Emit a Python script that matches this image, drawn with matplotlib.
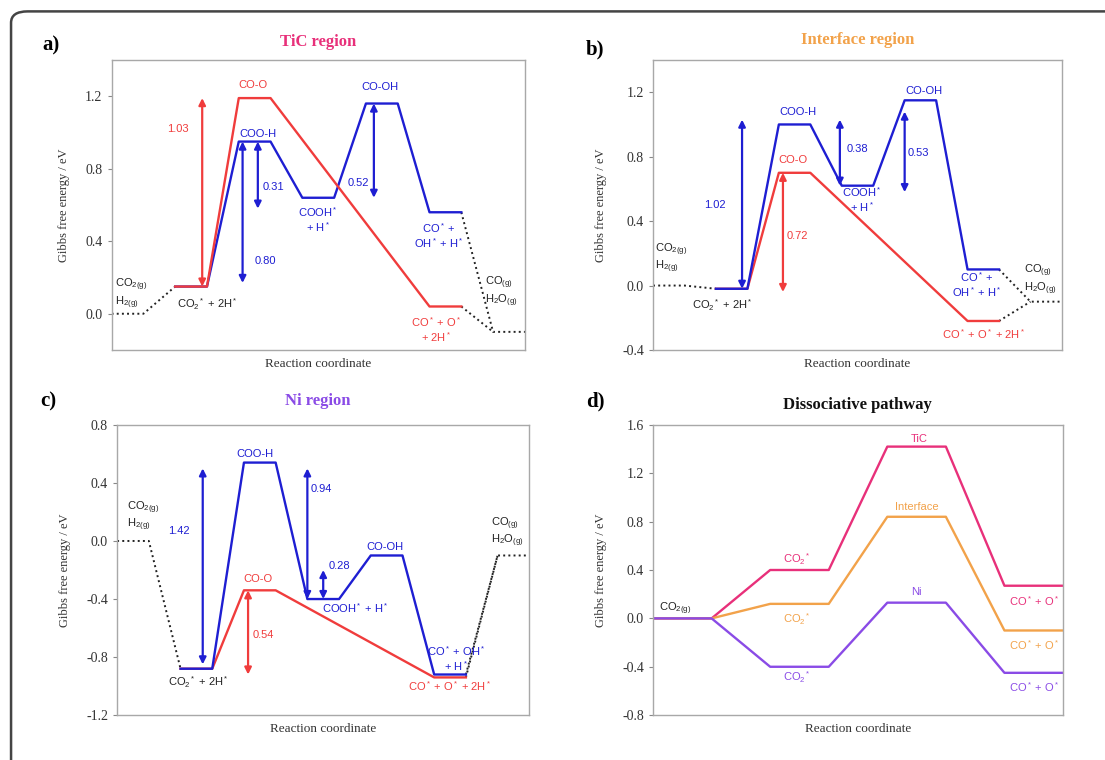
import matplotlib
matplotlib.use('Agg')
import matplotlib.pyplot as plt
from matplotlib.patches import FancyBboxPatch
from matplotlib.ticker import FormatStrFormatter

plt.rcParams['font.family'] = ['Liberation Serif', 'DejaVu Serif']
plt.rcParams['mathtext.fontset'] = 'custom'
plt.rcParams['mathtext.rm'] = 'Liberation Sans'
plt.rcParams['mathtext.it'] = 'Liberation Sans:italic'
plt.rcParams['axes.unicode_minus'] = False

# ---- energy levels (eV), one value per plateau ----
# slots: 0 = gas start, 1..5 = adsorbed states, 6 = gas end
gas_a = [0.0, -0.10]
cooh_a = [0.15, 0.95, 0.64, 1.16, 0.56]
redox_a = [0.15, 1.19, 0.04]

gas_b = [0.0, -0.10]
cooh_b = [-0.02, 1.00, 0.62, 1.15, 0.10]
redox_b = [-0.02, 0.70, -0.22]

gas_c = [0.0, -0.10]
cooh_c = [-0.88, 0.54, -0.40, -0.10, -0.92]
redox_c = [-0.88, -0.34, -0.94]

cooh_slots = [1, 2, 3, 4, 5]
redox_slots = [1, 2, 5]

# dissociative pathway, slots 0..3
diss_tic = [0.0, 0.40, 1.42, 0.27]
diss_int = [0.0, 0.12, 0.84, -0.10]
diss_ni = [0.0, -0.40, 0.13, -0.45]

# barrier arrows
bar_x_a = [2.85, 4.12, 4.6, 8.25]
bar_lo_a = [0.15, 0.17, 0.58, 0.64]
bar_hi_a = [1.19, 0.95, 0.95, 1.16]
bar_txt_a = ['1.03', '0.80', '0.31', '0.52']

bar_x_b = [2.83, 4.13, 5.94, 8.0]
bar_lo_b = [-0.02, -0.04, 0.62, 0.58]
bar_hi_b = [1.03, 0.70, 1.03, 1.08]
bar_txt_b = ['1.02', '0.72', '0.38', '0.53']

bar_x_c = [2.7, 4.13, 6.0, 6.5]
bar_lo_c = [-0.85, -0.92, -0.40, -0.40]
bar_hi_c = [0.50, -0.34, 0.50, -0.20]
bar_txt_c = ['1.42', '0.54', '0.94', '0.28']

BLUE = '#1e1ed2'
RED = '#f03c3c'
PINK = '#e8307a'
ORANGE = '#f2a24a'
PURPLE = '#8a4be6'
ANN = 8


def steps(slots, levels):
    xs, ys = [], []
    for s, v in zip(slots, levels):
        xs += [2 * s, 2 * s + 1]
        ys += [v, v]
    return xs, ys


def style_axes(ax, ylim, yticks):
    ax.set_xlim(0, 13)
    ax.set_ylim(*ylim)
    ax.set_yticks(yticks)
    ax.yaxis.set_major_formatter(FormatStrFormatter('%.1f'))
    ax.set_xticks([])
    for sp in ax.spines.values():
        sp.set_color('#a8a8a8')
        sp.set_linewidth(1.0)
    ax.tick_params(axis='y', length=3, color='#888888', labelsize=10,
                   labelcolor='#333333')
    ax.set_ylabel('Gibbs free energy / eV', fontsize=9, color='#333333',
                  labelpad=11)
    ax.set_xlabel('Reaction coordinate', fontsize=9.5, color='#333333',
                  labelpad=6)


def energy_panel(ax, gas, cooh, redox, red_on_top):
    # gas phase connectors
    ax.plot([0, 1, 2], [gas[0], gas[0], cooh[0]], color='#222222', ls=':', lw=1.4)
    ax.plot([11, 12, 13], [cooh[-1], gas[1], gas[1]], color='#222222', ls=':', lw=1.4)
    ax.plot([11, 12], [redox[-1], gas[1]], color='#222222', ls=':', lw=1.4)
    bx, by = steps(cooh_slots, cooh)
    rx, ry = steps(redox_slots, redox)
    zr = 3 if red_on_top else 2
    ax.plot(bx, by, color=BLUE, lw=1.7, zorder=2.5)
    ax.plot(rx, ry, color=RED, lw=1.7, zorder=zr)


def barriers(ax, xs, lo, hi, txt, colors, txt_pos):
    for x, a, b, t, c, (tx, ty) in zip(xs, lo, hi, txt, colors, txt_pos):
        ax.annotate('', xy=(x, b), xytext=(x, a),
                    arrowprops=dict(arrowstyle='<|-|>', color=c, lw=1.6,
                                    mutation_scale=10, shrinkA=0, shrinkB=0))
        ax.text(tx, ty, t, color=c, fontsize=ANN, family='Liberation Sans',
                ha='center', va='center')


def labels(ax, items):
    for t, x, y, c, ha in items:
        ax.text(x, y, t, color=c, fontsize=ANN, family='Liberation Sans',
                ha=ha, va='center', linespacing=1.1)


fig = plt.figure(figsize=(11.05, 7.6), dpi=100)

ax_a = fig.add_axes([0.101, 0.5395, 0.374, 0.3815])
ax_b = fig.add_axes([0.591, 0.5395, 0.370, 0.3815])
ax_c = fig.add_axes([0.106, 0.059, 0.373, 0.382])
ax_d = fig.add_axes([0.591, 0.059, 0.371, 0.382])

# ---- a) TiC ----
energy_panel(ax_a, gas_a, cooh_a, redox_a, red_on_top=True)
style_axes(ax_a, (-0.2, 1.4), [0.0, 0.4, 0.8, 1.2])
barriers(ax_a, bar_x_a, bar_lo_a, bar_hi_a, bar_txt_a, [RED, BLUE, BLUE, BLUE],
         [(2.1, 1.02), (4.85, 0.29), (5.1, 0.70), (7.75, 0.72)])
labels(ax_a, [
    ('CO$_{\\mathrm{2(g)}}$\nH$_{\\mathrm{2(g)}}$', 0.1, 0.11, '#222222', 'left'),
    ('CO$_2$$^*$ + 2H$^*$', 3.0, 0.05, '#222222', 'center'),
    ('CO-O', 4.45, 1.26, RED, 'center'),
    ('COO-H', 4.6, 0.99, BLUE, 'center'),
    ('COOH$^*$\n+ H$^*$', 6.5, 0.52, BLUE, 'center'),
    ('CO-OH', 8.45, 1.25, BLUE, 'center'),
    ('CO$^*$ +\nOH$^*$ + H$^*$', 10.3, 0.43, BLUE, 'center'),
    ('CO$^*$ + O$^*$\n+ 2H$^*$', 10.2, -0.09, RED, 'center'),
    ('CO$_{\\mathrm{(g)}}$\nH$_2$O$_{\\mathrm{(g)}}$', 11.75, 0.12, '#222222', 'left'),
])

# ---- b) Interface ----
energy_panel(ax_b, gas_b, cooh_b, redox_b, red_on_top=False)
style_axes(ax_b, (-0.4, 1.4), [-0.4, 0.0, 0.4, 0.8, 1.2])
barriers(ax_b, bar_x_b, bar_lo_b, bar_hi_b, bar_txt_b, [BLUE, RED, BLUE, BLUE],
         [(1.97, 0.50), (4.6, 0.31), (6.5, 0.85), (8.45, 0.82)])
labels(ax_b, [
    ('CO$_{\\mathrm{2(g)}}$\nH$_{\\mathrm{2(g)}}$', 0.05, 0.17, '#222222', 'left'),
    ('CO$_2$$^*$ + 2H$^*$', 2.2, -0.12, '#222222', 'center'),
    ('COO-H', 4.6, 1.08, BLUE, 'center'),
    ('CO-O', 4.45, 0.78, RED, 'center'),
    ('COOH$^*$\n+ H$^*$', 6.65, 0.535, BLUE, 'center'),
    ('CO-OH', 8.6, 1.21, BLUE, 'center'),
    ('CO$^*$ +\nOH$^*$ + H$^*$', 10.3, 0.005, BLUE, 'center'),
    ('CO$^*$ + O$^*$ + 2H$^*$', 10.5, -0.30, RED, 'center'),
    ('CO$_{\\mathrm{(g)}}$\nH$_2$O$_{\\mathrm{(g)}}$', 11.8, 0.035, '#222222', 'left'),
])

# ---- c) Ni ----
energy_panel(ax_c, gas_c, cooh_c, redox_c, red_on_top=False)
style_axes(ax_c, (-1.2, 0.8), [-1.2, -0.8, -0.4, 0.0, 0.4, 0.8])
barriers(ax_c, bar_x_c, bar_lo_c, bar_hi_c, bar_txt_c, [BLUE, RED, BLUE, BLUE],
         [(1.95, 0.07), (4.6, -0.65), (6.45, 0.36), (7.0, -0.17)])
labels(ax_c, [
    ('CO$_{\\mathrm{2(g)}}$\nH$_{\\mathrm{2(g)}}$', 0.3, 0.17, '#222222', 'left'),
    ('CO$_2$$^*$ + 2H$^*$', 2.55, -0.97, '#222222', 'center'),
    ('COO-H', 4.35, 0.60, BLUE, 'center'),
    ('CO-O', 4.45, -0.26, RED, 'center'),
    ('COOH$^*$ + H$^*$', 7.5, -0.46, BLUE, 'center'),
    ('CO-OH', 8.45, -0.04, BLUE, 'center'),
    ('CO$^*$ + OH$^*$\n+ H$^*$', 10.7, -0.81, BLUE, 'center'),
    ('CO$^*$ + O$^*$ + 2H$^*$', 10.5, -1.00, RED, 'center'),
    ('CO$_{\\mathrm{(g)}}$\nH$_2$O$_{\\mathrm{(g)}}$', 11.8, 0.06, '#222222', 'left'),
])

# ---- d) Dissociative pathway ----
for vals, col in [(diss_tic, PINK), (diss_int, ORANGE), (diss_ni, PURPLE)]:
    dx, dy = steps([0, 1, 2, 3], vals)
    ax_d.plot(dx, dy, color=col, lw=1.7)
style_axes(ax_d, (-0.8, 1.6), [-0.8, -0.4, 0.0, 0.4, 0.8, 1.2, 1.6])
ax_d.set_xlim(0, 7)
labels(ax_d, [
    ('CO$_{\\mathrm{2(g)}}$', 0.1, 0.08, '#222222', 'left'),
    ('CO$_2$$^*$', 2.45, 0.49, PINK, 'center'),
    ('CO$_2$$^*$', 2.45, -0.01, ORANGE, 'center'),
    ('CO$_2$$^*$', 2.45, -0.49, PURPLE, 'center'),
    ('TiC', 4.55, 1.48, PINK, 'center'),
    ('Interface', 4.5, 0.92, ORANGE, 'center'),
    ('Ni', 4.5, 0.22, PURPLE, 'center'),
    ('CO$^*$ + O$^*$', 6.5, 0.14, PINK, 'center'),
    ('CO$^*$ + O$^*$', 6.5, -0.22, ORANGE, 'center'),
    ('CO$^*$ + O$^*$', 6.5, -0.57, PURPLE, 'center'),
])

# titles and panel letters
fig.text(0.288, 0.945, 'TiC region', color=PINK, fontsize=12, weight='bold',
         ha='center', va='center')
fig.text(0.776, 0.947, 'Interface region', color=ORANGE, fontsize=12,
         weight='bold', ha='center', va='center')
fig.text(0.288, 0.473, 'Ni region', color=PURPLE, fontsize=12, weight='bold',
         ha='center', va='center')
fig.text(0.776, 0.467, 'Dissociative pathway', color='#111111', fontsize=12,
         weight='bold', ha='center', va='center')
for t, x, y in [('a)', 0.038, 0.94), ('b)', 0.53, 0.935), ('c)', 0.036, 0.472),
                ('d)', 0.53, 0.472)]:
    fig.text(x, y, t, fontsize=15, weight='bold', ha='left', va='center')

frame = FancyBboxPatch((0.010, -0.2), 1.2, 1.185,
                       boxstyle='round,pad=0,rounding_size=0.015',
                       transform=fig.transFigure, fill=False,
                       edgecolor='#444444', lw=1.8, clip_on=False)
fig.patches.append(frame)

fig.savefig('out.png', dpi=100)
